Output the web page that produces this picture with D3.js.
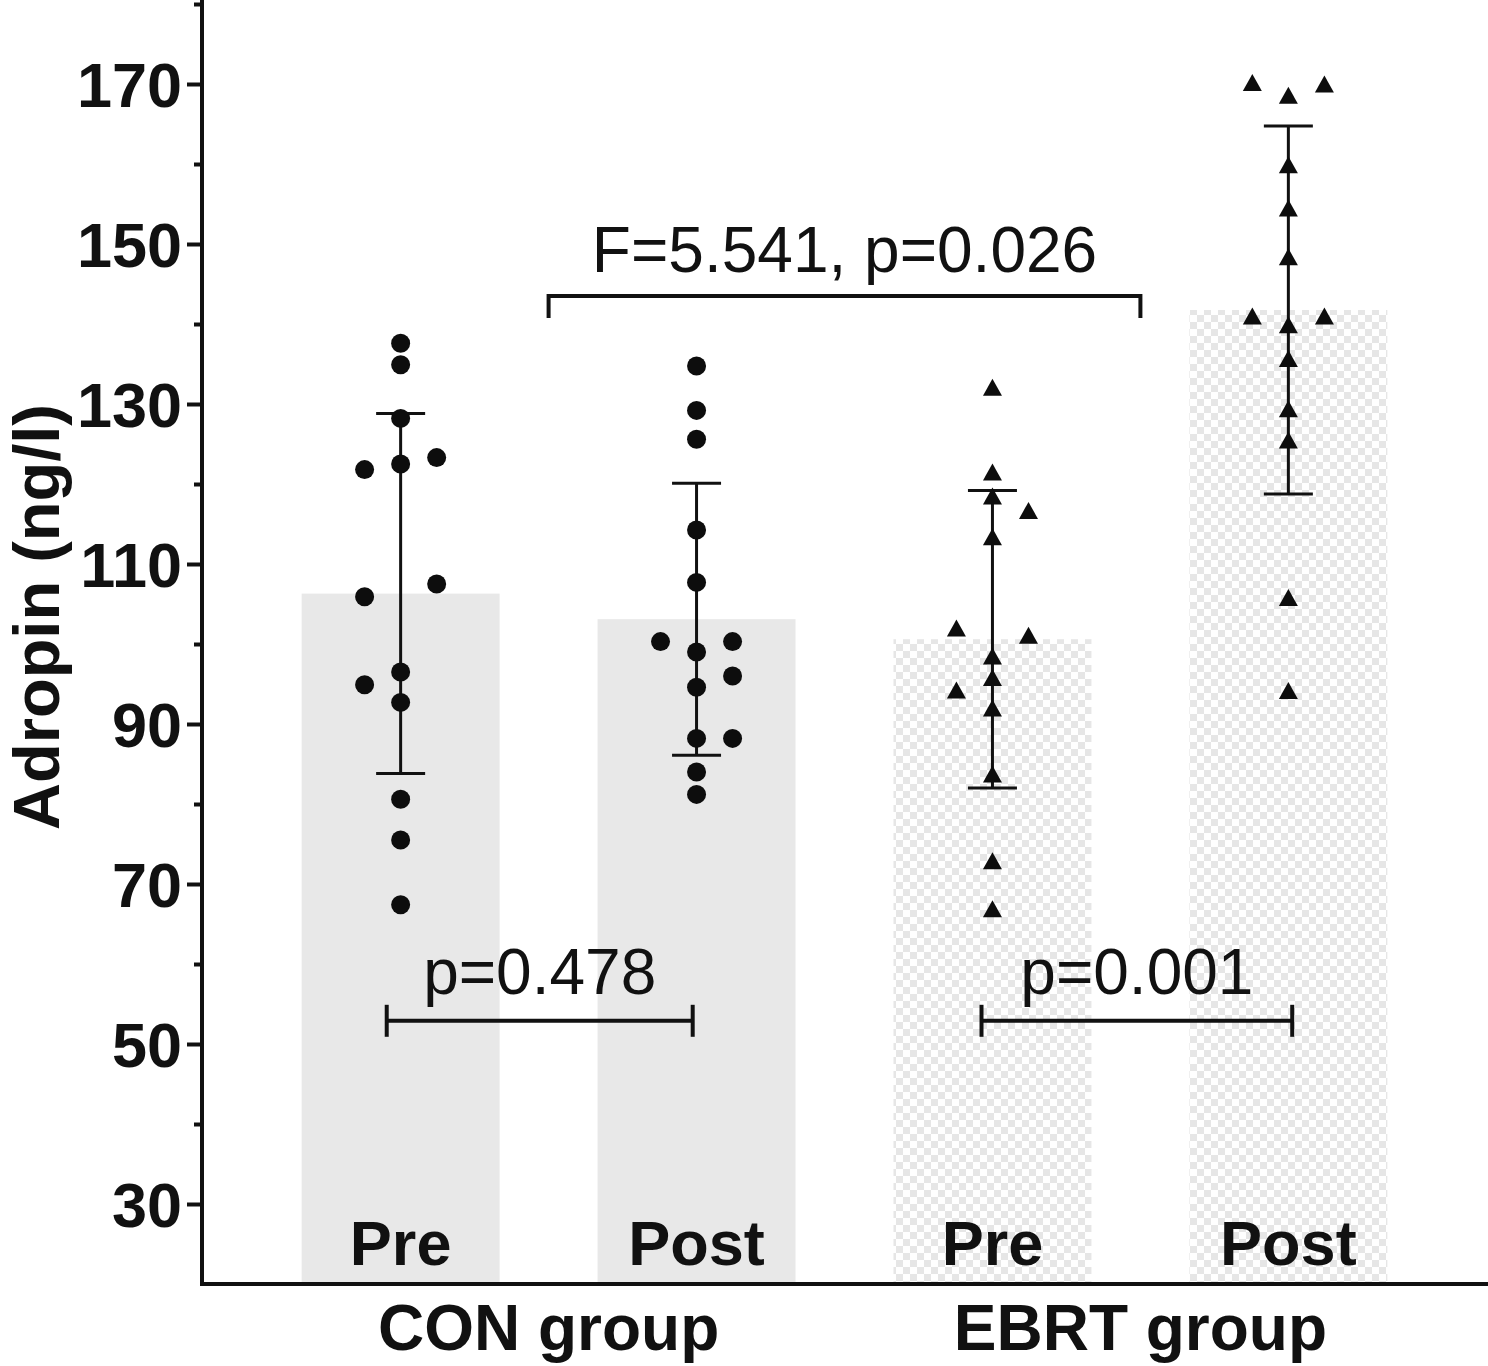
<!DOCTYPE html>
<html>
<head>
<meta charset="utf-8">
<script src="https://cdn.jsdelivr.net/npm/d3@7"></script>
<style>
  html, body { margin: 0; padding: 0; background: #fff; }
  svg { display: block; }
  text { font-family: "Liberation Sans", Arial, Helvetica, sans-serif; fill: #111; }
</style>
</head>
<body>
<svg id="chart" width="1488" height="1366"></svg>
<script>
// ---------------- data ----------------
const categories = ["CON Pre", "CON Post", "EBRT Pre", "EBRT Post"];
const phaseLabels = ["Pre", "Post", "Pre", "Post"];
const groupLabels = ["CON group", "EBRT group"];
const means = [106.3, 103.1, 100.6, 141.75];
const sds = [22.5, 17.0, 18.6, 23.0];

const conPre  = [137.6, 134.9, 128.2, 122.5, 121.8, 123.3, 107.5, 105.9, 96.5, 94.9, 92.7, 80.6, 75.5, 67.4];
const conPreSide  = [0, 0, 0, 0, -1, 1, 1, -1, 0, -1, 0, 0, 0, 0];
const conPost = [134.75, 129.2, 125.6, 114.25, 107.7, 100.3, 99.0, 100.3, 96.0, 94.6, 88.2, 88.2, 84.0, 81.2];
const conPostSide = [0, 0, 0, 0, 0, -1, 0, 1, 1, 0, 0, 1, 0, 0];
const ebrtPre = [132.1, 121.5, 118.5, 116.7, 113.4, 102.0, 101.1, 98.5, 95.8, 94.25, 92.0, 83.75, 72.9, 66.9];
const ebrtPreSide = [0, 0, 0, 1, 0, -1, 1, 0, 0, -1, 0, 0, 0, 0];
const ebrtPost = [170.2, 170.0, 168.6, 159.9, 154.5, 148.4, 141.0, 141.0, 139.9, 135.7, 129.4, 125.5, 105.8, 94.2];
const ebrtPostSide = [-1, 1, 0, 0, 0, 0, -1, 1, 0, 0, 0, 0, 0, 0];

const majorTicks = [30, 50, 70, 90, 110, 130, 150, 170];
const minorTicks = [40, 60, 80, 100, 120, 140, 160, 180];

// brackets span fractional category indices
const annotations = [
  { text: "F=5.541, p=0.026", from: 0.5, to: 2.5, value: 143.5, textValue: 146.5, type: "down" },
  { text: "p=0.478", from: -0.047, to: 0.987, value: 52.9, textValue: 56.3, type: "caps" },
  { text: "p=0.001", from: 1.963, to: 3.013, value: 52.9, textValue: 56.3, type: "caps" }
];

// ---------------- scales ----------------
const svg = d3.select("#chart");
const y = d3.scaleLinear().domain([20, 180.5]).range([1284, 0]);
const x = d3.scaleBand().domain(categories).range([204, 1485]).paddingInner(0.331).paddingOuter(0.33);
const bw = x.bandwidth();
const cx = i => x(categories[i]) + bw / 2;
const step = x.step();
const fx = f => cx(0) + f * step;
const sideOffset = bw * 0.182;

// pattern for EBRT bars
const defs = svg.append("defs");
const pat = defs.append("pattern").attr("id", "checker")
  .attr("patternUnits", "userSpaceOnUse").attr("width", 14).attr("height", 14);
pat.append("rect").attr("width", 14).attr("height", 14).attr("fill", "#ffffff");
pat.append("rect").attr("x", 0).attr("y", 0).attr("width", 7).attr("height", 7).attr("fill", "#e6e6e6");
pat.append("rect").attr("x", 7).attr("y", 7).attr("width", 7).attr("height", 7).attr("fill", "#e6e6e6");

// ---------------- bars ----------------
svg.append("g").selectAll("rect").data(means).join("rect")
  .attr("x", (d, i) => x(categories[i]))
  .attr("y", d => y(d))
  .attr("width", bw)
  .attr("height", d => y(20) - y(d))
  .attr("fill", (d, i) => i < 2 ? "#e8e8e8" : "url(#checker)");

// phase labels inside bars
svg.append("g").selectAll("text").data(phaseLabels).join("text")
  .attr("x", (d, i) => cx(i))
  .attr("y", 1265)
  .attr("text-anchor", "middle")
  .attr("font-size", 63)
  .attr("font-weight", "bold")
  .text(d => d);

// ---------------- error bars ----------------
const eb = svg.append("g").attr("stroke", "#111").attr("stroke-width", 3);
means.forEach((m, i) => {
  const c = cx(i);
  eb.append("line").attr("x1", c).attr("x2", c).attr("y1", y(m + sds[i])).attr("y2", y(m - sds[i]));
  eb.append("line").attr("x1", c - 24.5).attr("x2", c + 24.5).attr("y1", y(m + sds[i])).attr("y2", y(m + sds[i]));
  eb.append("line").attr("x1", c - 24.5).attr("x2", c + 24.5).attr("y1", y(m - sds[i])).attr("y2", y(m - sds[i]));
});

// ---------------- points ----------------
const series = [
  { vals: conPre, side: conPreSide, shape: "circle" },
  { vals: conPost, side: conPostSide, shape: "circle" },
  { vals: ebrtPre, side: ebrtPreSide, shape: "triangle" },
  { vals: ebrtPost, side: ebrtPostSide, shape: "triangle" }
];
const pts = svg.append("g");
series.forEach((s, i) => {
  const data = s.vals.map((v, j) => ({ v, px: cx(i) + s.side[j] * sideOffset }));
  if (s.shape === "circle") {
    pts.selectAll(null).data(data).join("circle")
      .attr("cx", d => d.px).attr("cy", d => y(d.v)).attr("r", 9.5).attr("fill", "#0d0d0d");
  } else {
    pts.selectAll(null).data(data).join("path")
      .attr("d", "M0,-8.5L9.5,8.5L-9.5,8.5Z")
      .attr("transform", d => `translate(${d.px},${y(d.v)})`)
      .attr("fill", "#0d0d0d");
  }
});

// ---------------- axes ----------------
const yAxisMajor = d3.axisLeft(y).tickValues(majorTicks).tickSize(15).tickPadding(5).tickFormat(d3.format("d"));
const yAxisMinor = d3.axisLeft(y).tickValues(minorTicks).tickSize(8).tickFormat("");
const gMaj = svg.append("g").attr("transform", "translate(202,0)").call(yAxisMajor);
const gMin = svg.append("g").attr("transform", "translate(202,0)").call(yAxisMinor);
[gMaj, gMin].forEach(g => {
  g.select(".domain").remove();
  g.selectAll(".tick line").attr("stroke", "#111").attr("stroke-width", 4);
});
gMaj.selectAll(".tick text")
  .attr("font-size", 63).attr("font-weight", "bold")
  .attr("font-family", "'Liberation Sans', Arial, sans-serif").attr("fill", "#111").attr("dy", "0.36em");

// axis lines
svg.append("line").attr("x1", 202).attr("x2", 202).attr("y1", 0).attr("y2", y(20) + 2)
  .attr("stroke", "#111").attr("stroke-width", 4);
svg.append("line").attr("x1", 200).attr("x2", 1488).attr("y1", y(20)).attr("y2", y(20))
  .attr("stroke", "#111").attr("stroke-width", 4);

// group labels
groupLabels.forEach((g, k) => {
  svg.append("text")
    .attr("x", (cx(2 * k) + cx(2 * k + 1)) / 2)
    .attr("y", 1350)
    .attr("text-anchor", "middle")
    .attr("font-size", 64)
    .attr("font-weight", "bold")
    .text(g);
});

// y title
svg.append("text")
  .attr("transform", "translate(59,617) rotate(-90)")
  .attr("text-anchor", "middle")
  .attr("font-size", 65)
  .attr("font-weight", "bold")
  .text("Adropin (ng/l)");

// ---------------- annotations ----------------
const ann = svg.append("g");
annotations.forEach(a => {
  const x1 = fx(a.from), x2 = fx(a.to);
  const yy = y(a.value);
  ann.append("line").attr("x1", x1).attr("x2", x2).attr("y1", yy).attr("y2", yy)
    .attr("stroke", "#111").attr("stroke-width", 4);
  [x1, x2].forEach(xx => {
    const l = ann.append("line").attr("x1", xx).attr("x2", xx)
      .attr("stroke", "#111").attr("stroke-width", 4);
    if (a.type === "down") l.attr("y1", yy - 2).attr("y2", yy + 22);
    else l.attr("y1", yy - 16).attr("y2", yy + 16);
  });
  ann.append("text")
    .attr("x", (x1 + x2) / 2)
    .attr("y", y(a.textValue))
    .attr("text-anchor", "middle")
    .attr("font-size", 64)
    .text(a.text);
});
</script>
</body>
</html>
